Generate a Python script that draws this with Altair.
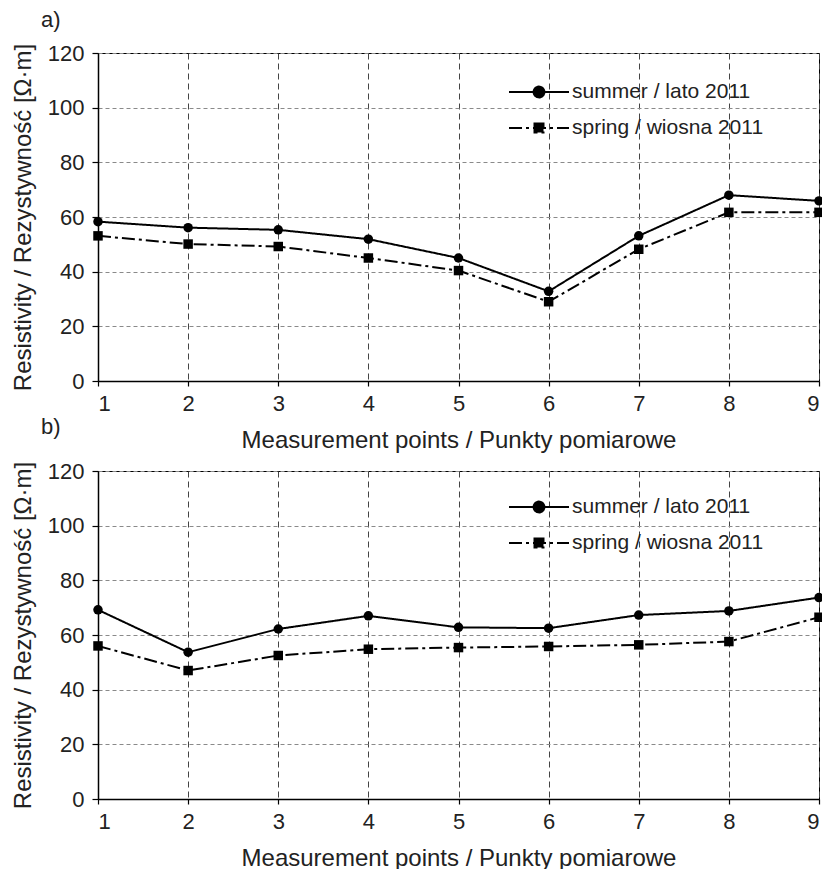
import altair as alt
import pandas as pd

points = [1, 2, 3, 4, 5, 6, 7, 8, 9]
series_names = ["summer / lato 2011", "spring / wiosna 2011"]
a_summer = [58.3, 56.1, 55.3, 51.9, 45.0, 32.8, 53.1, 68.0, 65.9]
a_spring = [53.1, 50.1, 49.2, 45.0, 40.4, 29.0, 48.2, 61.7, 61.7]
b_summer = [69.2, 53.7, 62.2, 67.0, 62.8, 62.5, 67.3, 68.8, 73.7]
b_spring = [56.0, 47.0, 52.5, 54.8, 55.4, 55.8, 56.4, 57.6, 66.5]
y_ticks = [0, 20, 40, 60, 80, 100, 120]
panel_labels = ["a)", "b)"]
x_title = "Measurement points / Punkty pomiarowe"
y_title = "Resistivity / Rezystywność [Ω·m]"

FONT = "Liberation Sans"
TXT = "#222222"

circle_path = "M-1,0H1M0.18,0A0.18,0.18,0,1,1,-0.18,0A0.18,0.18,0,1,1,0.18,0Z"
square_path = "M-1,0H1M-0.15,-0.15H0.15V0.15H-0.15Z"
sym_expr = f"datum.value == '{series_names[0]}' ? '{circle_path}' : '{square_path}'"


def panel(summer, spring, label, legend_y, title_offset):
    df = pd.DataFrame({
        "point": points * 2,
        "value": summer + spring,
        "series": [series_names[0]] * len(points) + [series_names[1]] * len(points),
    })
    base = alt.Chart(df).encode(
        x=alt.X("point:Q",
                scale=alt.Scale(domain=[1, 9], nice=False, zero=False),
                axis=alt.Axis(values=points, title=x_title, format="d")),
        y=alt.Y("value:Q",
                scale=alt.Scale(domain=[0, 120], nice=False),
                axis=alt.Axis(values=y_ticks, title=y_title)),
    )
    lines = base.mark_line(color="black", strokeWidth=2).encode(
        strokeDash=alt.StrokeDash(
            "series:N",
            scale=alt.Scale(domain=series_names, range=[[1, 0], [13, 4, 3, 4]]),
            legend=alt.Legend(
                title=None, orient="none", legendX=410, legendY=legend_y,
                symbolType={"expr": sym_expr}, symbolSize=3600,
                symbolStrokeWidth=2, symbolFillColor="black",
                symbolStrokeColor="black", labelFontSize=21, labelFont=FONT,
                labelColor=TXT, labelOffset=2, clipHeight=36, padding=0,
                rowPadding=0, labelLimit=400,
            ),
        ),
    )
    pts = base.mark_point(filled=True, color="black", opacity=1, size=90).encode(
        shape=alt.Shape("series:N",
                        scale=alt.Scale(domain=series_names, range=["circle", "square"]),
                        legend=None),
    )
    return alt.layer(lines, pts).properties(
        width=721, height=328,
        title=alt.TitleParams(text=label, anchor="start", frame="group", dx=-57,
                              offset=title_offset, fontSize=22, fontWeight="normal",
                              color=TXT, font=FONT),
    ).resolve_scale(strokeDash="independent", shape="independent")


top = panel(a_summer, a_spring, panel_labels[0], 21, 10)
bottom = panel(b_summer, b_spring, panel_labels[1], 18, 21)

chart = alt.vconcat(top, bottom, spacing=90, bounds="flush").resolve_scale(
    strokeDash="independent", shape="independent"
).resolve_legend(strokeDash="independent", shape="independent").properties(
    padding={"left": 2, "top": 0, "right": -3, "bottom": 0}
).configure(
    font=FONT
).configure_view(
    stroke="black", strokeWidth=1
).configure_axis(
    domainColor="black", domainWidth=1.5, tickColor="black", tickWidth=1.2,
    labelFont=FONT, titleFont=FONT, labelColor=TXT, titleColor=TXT,
    labelFontSize=22, titleFontSize=24, titleFontWeight="normal",
    grid=True, gridWidth=1,
).configure_axisX(
    tickSize=5, labelPadding=7, titlePadding=14,
    gridColor="#444444", gridDash=[6, 4],
).configure_axisY(
    tickSize=6, labelPadding=8, titlePadding=12,
    gridColor="#8a8a8a", gridDash=[4, 3],
)

chart.save("out.html", embed_options={"renderer": "svg", "actions": False})
